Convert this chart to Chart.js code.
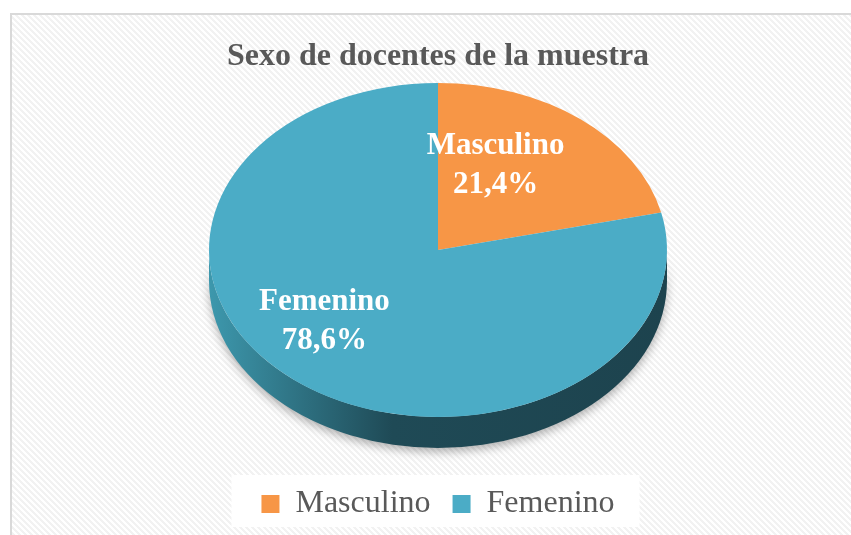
<!DOCTYPE html>
<html>
<head>
<meta charset="utf-8">
<script src="https://cdn.jsdelivr.net/npm/chart.js@4.4.1/dist/chart.umd.min.js"></script>
<style>
  body { margin: 0; background: #ffffff; }
  #chart { display: block; }
</style>
</head>
<body>
<canvas id="chart" width="851" height="535"></canvas>
<script>
const categories = ["Masculino", "Femenino"];
const percentages = [21.4, 78.6];
const titleText = "Sexo de docentes de la muestra";

const sliceColors = ["#F79646", "#4BACC6"];
// side (3d wall) gradient colours per slice
const sideColors = [
  ["#d47a33", "#8c4a1a", "#8a4818"],
  ["#3d98ad", "#1f4a56", "#1d434e"]
];

const serif = "'Liberation Serif', 'Times New Roman', serif";

// ellipse look of the pie
const PIE_CY = 250;
const PIE_RX = 229;
const PIE_RY = 167;
const DEPTH = 31;
const LABEL_R = 0.6;
const LABEL_DX = -28;
const LABEL_DY = -7;

function stripes() {
  let c = document.createElement("canvas");
  c.width = 6; c.height = 6;
  let g = c.getContext("2d");
  g.fillStyle = "#ffffff";
  g.fillRect(0, 0, 6, 6);
  g.fillStyle = "#f2f2f2";
  for (let y = 0; y < 6; y++) {
    for (let x = 0; x < 6; x++) {
      if (((x - y) % 6 + 6) % 6 < 3) g.fillRect(x, y, 1, 1);
    }
  }
  return c;
}

function ellipsePoint(cx, t) {
  return [cx + PIE_RX * Math.cos(t), PIE_CY + PIE_RY * Math.sin(t)];
}

const pie3d = {
  id: "pie3d",
  beforeDraw(chart) {
    const ctx = chart.ctx;
    ctx.save();
    ctx.fillStyle = "#ffffff";
    ctx.fillRect(0, 0, chart.width, chart.height);
    ctx.fillStyle = ctx.createPattern(stripes(), "repeat");
    ctx.fillRect(11, 14, chart.width - 11, chart.height - 14);
    ctx.strokeStyle = "#d9d9d9";
    ctx.lineWidth = 2;
    ctx.beginPath();
    ctx.moveTo(11, chart.height);
    ctx.lineTo(11, 14);
    ctx.lineTo(chart.width, 14);
    ctx.stroke();

    // white box behind legend
    const boxes = chart.legend.legendHitBoxes;
    if (boxes && boxes.length) {
      let l = Math.min(...boxes.map(b => b.left));
      let r = Math.max(...boxes.map(b => b.left + b.width));
      let t = Math.min(...boxes.map(b => b.top));
      let bt = Math.max(...boxes.map(b => b.top + b.height));
      ctx.fillStyle = "#ffffff";
      ctx.fillRect(l - 30, t - 13, r - l + 55, bt - t + 20);
    }
    ctx.restore();
  },
  beforeDatasetsDraw(chart) {
    const ctx = chart.ctx;
    const meta = chart.getDatasetMeta(0);
    const first = meta.data[0];
    const cx = first.x;

    // side wall, only the front half (0..PI) is visible
    meta.data.forEach((arc, i) => {
      for (const shift of [0, -2 * Math.PI, 2 * Math.PI]) {
        let a0 = Math.max(arc.startAngle + shift, 0);
        let a1 = Math.min(arc.endAngle + shift, Math.PI);
        if (a1 <= a0) continue;
        const p0 = ellipsePoint(cx, a0);
        const grad = ctx.createLinearGradient(cx - PIE_RX, 0, cx + PIE_RX, 0);
        grad.addColorStop(0, sideColors[i][0]);
        grad.addColorStop(0.4, sideColors[i][1]);
        grad.addColorStop(1, sideColors[i][2]);
        ctx.save();
        ctx.shadowColor = "rgba(0,0,0,0.3)";
        ctx.shadowBlur = 10;
        ctx.shadowOffsetY = 4;
        ctx.fillStyle = grad;
        ctx.beginPath();
        ctx.moveTo(p0[0], p0[1]);
        ctx.ellipse(cx, PIE_CY + DEPTH, PIE_RX, PIE_RY, 0, a0, a1);
        ctx.ellipse(cx, PIE_CY, PIE_RX, PIE_RY, 0, a1, a0, true);
        ctx.closePath();
        ctx.fill();
        ctx.restore();
      }
    });

    // squash the round pie into the ellipse top face
    const r = first.outerRadius;
    ctx.save();
    ctx.translate(cx, PIE_CY);
    ctx.scale(PIE_RX / r, PIE_RY / r);
    ctx.translate(-first.x, -first.y);
  },
  afterDatasetsDraw(chart) {
    const ctx = chart.ctx;
    ctx.restore();
    const meta = chart.getDatasetMeta(0);
    ctx.save();
    ctx.fillStyle = "#ffffff";
    ctx.font = "bold 31px " + serif;
    ctx.textAlign = "center";
    ctx.textBaseline = "middle";
    meta.data.forEach((arc, i) => {
      const mid = (arc.startAngle + arc.endAngle) / 2;
      const x = arc.x + PIE_RX * LABEL_R * Math.cos(mid) + LABEL_DX;
      const y = PIE_CY + PIE_RY * LABEL_R * Math.sin(mid) + LABEL_DY;
      ctx.fillText(categories[i], x, y - 19);
      ctx.fillText(percentages[i].toFixed(1).replace(".", ",") + "%", x, y + 20);
    });
    ctx.restore();
  }
};

new Chart(document.getElementById("chart"), {
  type: "pie",
  data: {
    labels: categories,
    datasets: [{
      data: percentages,
      backgroundColor: sliceColors,
      borderWidth: 0,
      clip: false
    }]
  },
  options: {
    responsive: false,
    animation: false,
    events: [],
    layout: { padding: { left: 25, right: 0, top: 0, bottom: 5 } },
    plugins: {
      title: {
        display: true,
        text: titleText,
        color: "#595959",
        font: { family: serif, size: 32, weight: "bold" },
        padding: { top: 38, bottom: 10 }
      },
      legend: {
        position: "bottom",
        labels: {
          color: "#595959",
          font: { family: serif, size: 32 },
          boxWidth: 18,
          boxHeight: 18,
          padding: 22
        }
      },
      tooltip: { enabled: false }
    }
  },
  plugins: [pie3d]
});
</script>
</body>
</html>
